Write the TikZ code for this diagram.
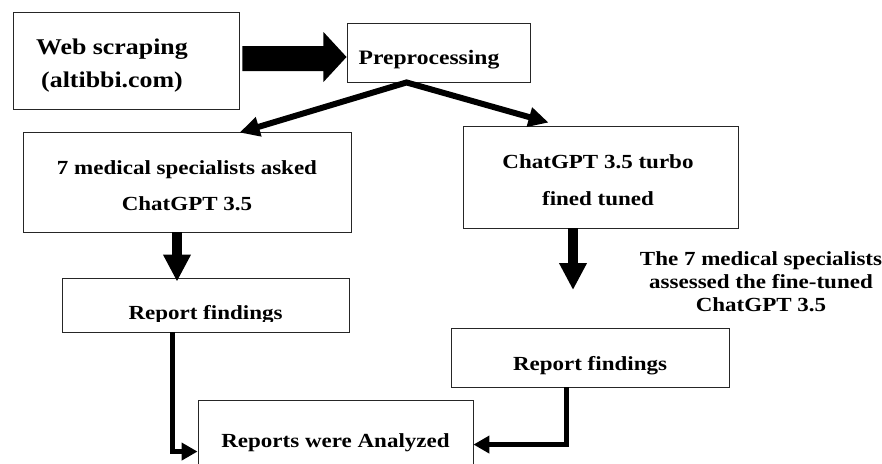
\documentclass[tikz,border=0pt]{standalone}
\usepackage{fontspec}
\setmainfont{Liberation Serif}[FakeStretch=1.15]
\usetikzlibrary{arrows.meta,calc}
\begin{document}
\begin{tikzpicture}[x=1pt,y=-1pt,
  box/.style={draw=black!85, line width=0.9pt, fill=white, inner sep=0pt, align=center},
  txt/.style={font=\fontsize{20}{#1}\selectfont\bfseries, align=center, inner sep=0pt},
  txt/.default=24,
  fatarrow/.style={line width=10pt, -{Triangle[length=27pt,width=26pt]}},
  diagarrow/.style={line width=6pt, {Triangle[length=20pt,width=19pt]}-{Triangle[length=20pt,width=19pt]}},
  elbowarrow/.style={line width=5pt, -{Triangle[length=16pt,width=17pt]}}
]
\clip (0,0) rectangle (882,463);
\fill[white] (0,0) rectangle (882,463);

% boxes
\node[box, minimum width=226, minimum height=97] (web) at (126,60.5) {};
\node[txt=33, font=\fontsize{22.5}{33}\selectfont\bfseries] (webtext) at (112,66) {Web scraping\\(altibbi.com)};
\node[box, minimum width=183, minimum height=59] (pre) at (438.5,52.5) {};
\node[txt, font=\fontsize{20.5}{24}\selectfont\bfseries] (pretext) at (429,60) {Preprocessing};
\node[box, txt=36, minimum width=328, minimum height=100] (ask) at (187,182) {};
\node[txt=36] (asktext) at (187,186) {7 medical specialists asked\\ChatGPT 3.5};
\node[box, minimum width=275, minimum height=102] (tuned) at (600.5,177) {};
\node[txt=37] (tunedtext) at (598,180) {ChatGPT 3.5 turbo\\fined tuned};
\node[box, minimum width=287, minimum height=54] (rep1) at (205.5,305) {};
\begin{scope}
  \clip (62,278) rectangle (349,321);
  \node[txt] (rep1text) at (205.5,315) {Report findings};
\end{scope}
\node[box, minimum width=278, minimum height=59] (rep2) at (590,357.5) {};
\node[txt] (rep2text) at (590,366) {Report findings};
\node[box, minimum width=275, minimum height=80] (ana) at (335.5,440) {};
\node[txt] (anatext) at (335.5,443) {Reports were Analyzed};

% annotation
\node[txt=23] (note) at (761,282) {The 7 medical specialists\\assessed the fine-tuned\\ChatGPT 3.5};

% block arrow web -> pre
\fill ($(web.east)+(3,-14.5)$) -- ($(web.east)+(84,-14.5)$) -- ($(web.east)+(84,-28.5)$)
  -- ($(pre.west)+(0,4.5)$) -- ($(web.east)+(84,21.5)$) -- ($(web.east)+(84,10.5)$)
  -- ($(web.east)+(3,10.5)$) -- cycle;

% diagonal arrows from pre
\coordinate (prebot) at ($(pre.south west)+(60,0)$);
\draw[diagarrow] ($(ask.north west)+(217,1)$) -- (prebot) -- ($(tuned.north west)+(86,-3)$);

% down arrows
\draw[fatarrow] ($(ask.south)+(-10,0)$) -- ($(rep1.north)+(-28.5,4)$);
\coordinate (t2end) at (573,290);
\draw[fatarrow] ($(tuned.south)+(-27.5,0)$) -- (t2end);

% elbow arrows
\draw[elbowarrow] ($(rep1.south)+(-33.5,0)$) |- ($(ana.north west)+(0,52)$);
\draw[elbowarrow] ($(rep2.south)+(-24,0)$) |- ($(ana.north east)+(0,45)$);
\end{tikzpicture}
\end{document}
